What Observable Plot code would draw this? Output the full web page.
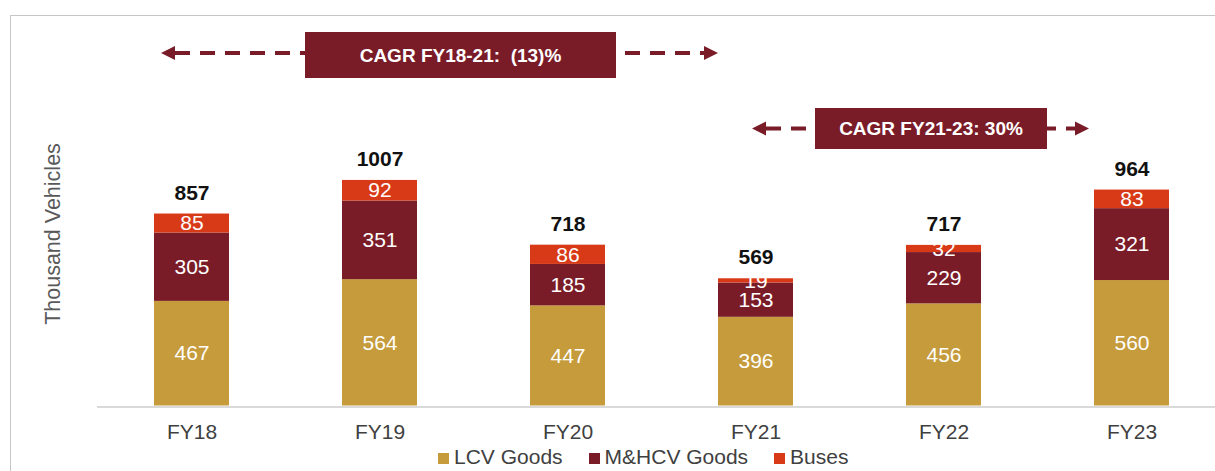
<!DOCTYPE html>
<html>
<head>
<meta charset="utf-8">
<script src="https://cdn.jsdelivr.net/npm/d3@7"></script>
<script src="https://cdn.jsdelivr.net/npm/@observablehq/plot@0.6"></script>
<style>
  html, body { margin: 0; padding: 0; background: #fff; }
  body { font-family: "Liberation Sans", Arial, sans-serif; }
  #wrap { position: relative; width: 1215px; height: 471px; overflow: hidden; background: #fff; }
  #frame { position: absolute; left: 10px; top: 15px; width: 1400px; height: 600px;
           border-left: 1.5px solid #c6c6c6; border-top: 1.5px solid #c6c6c6; pointer-events: none; }
  #chart { position: absolute; left: 0; top: 0; }
  #legend { position: absolute; left: 438px; top: 445px; height: 24px; display: flex; align-items: center;
            font-size: 21px; color: #404040; white-space: nowrap; }
  #legend .item { display: flex; align-items: center; margin-right: 26px; }
  #legend .sw { width: 11px; height: 11px; margin-right: 5px; margin-top: 3px; }
</style>
</head>
<body>
<div id="wrap">
  <div id="frame"></div>
  <div id="chart"></div>
  <div id="legend"></div>
</div>
<script>
// ---- data ----
const years = ["FY18", "FY19", "FY20", "FY21", "FY22", "FY23"];
const series = ["LCV Goods", "M&HCV Goods", "Buses"];
const lcvGoods = [467, 564, 447, 396, 456, 560];
const mhcvGoods = [305, 351, 185, 153, 229, 321];
const buses = [85, 92, 86, 19, 32, 83];
const totals = [857, 1007, 718, 569, 717, 964];
const colors = ["#C59B3C", "#7A1C28", "#D83A17"];
const yAxisTitle = "Thousand Vehicles";
const cagrLabels = ["CAGR FY18-21:  (13)%", "CAGR FY21-23: 30%"];

// ---- tables ----
const seriesValues = [lcvGoods, mhcvGoods, buses];
const rows = [];
series.forEach((s, si) => years.forEach((y, yi) => rows.push({ year: y, series: s, value: seriesValues[si][yi] })));
const totalRows = years.map((y, i) => ({ year: y, total: totals[i] }));

const font = "Liberation Sans, Arial, sans-serif";

const chart = Plot.plot({
  width: 1215,
  height: 445,
  marginLeft: 97,
  marginRight: 0,
  marginTop: 0,
  marginBottom: 40,
  x: { domain: years, range: [97, 1227], paddingInner: 0.6, paddingOuter: 0.3, label: null },
  y: { domain: [0, 1000], range: [405.5, 181.5], axis: null },
  color: { domain: series, range: colors },
  style: { fontFamily: font, background: "transparent", overflow: "visible" },
  marks: [
    Plot.ruleY([0], { stroke: "#d9d9d9", strokeWidth: 2, dy: 1 }),
    Plot.barY(rows, Plot.stackY({ x: "year", y: "value", fill: "series", order: series })),
    Plot.text(rows, Plot.stackY({
      x: "year", y: "value", z: "series", order: series,
      text: d => String(d.value), fill: "white", fontSize: 21
    })),
    Plot.text(totalRows, {
      x: "year", y: "total", text: d => String(d.total),
      dy: -21, fontSize: 21, fontWeight: "bold", fill: "#111"
    }),
    Plot.axisX({ tickSize: 0, tickPadding: 19, fontSize: 21, fill: "#404040", label: null }),
    Plot.text([yAxisTitle], {
      text: d => d, frameAnchor: "left", textAnchor: "middle", rotate: -90, dx: -44, dy: 31,
      fontSize: 21.5, fill: "#595959"
    })
  ]
});
document.getElementById("chart").appendChild(chart);

// ---- CAGR annotations (dashed double arrows with labelled boxes) ----
const xs = chart.scale("x");
const bandStart = k => xs.apply(k);
const annot = [
  { label: cagrLabels[0], x1: bandStart("FY18") + 7, x2: bandStart("FY21"), y: 53,
    bx: 305, bw: 311, by: 32, bh: 46 },
  { label: cagrLabels[1], x1: bandStart("FY21") + 34, x2: bandStart("FY23") - 5, y: 128.5,
    bx: 815, bw: 232, by: 108, bh: 41 }
];
const ac = "#7A1C28";
const svg = d3.select(chart);
const g = svg.append("g");
annot.forEach(a => {
  const hl = 14, hh = 7;
  g.append("line")
    .attr("x1", a.x1 + hl).attr("x2", a.x2 - hl)
    .attr("y1", a.y).attr("y2", a.y)
    .attr("stroke", ac).attr("stroke-width", 4)
    .attr("stroke-dasharray", "15 10");
  g.append("path")
    .attr("d", `M${a.x1},${a.y} L${a.x1 + hl},${a.y - hh} L${a.x1 + hl},${a.y + hh} Z`)
    .attr("fill", ac);
  g.append("path")
    .attr("d", `M${a.x2},${a.y} L${a.x2 - hl},${a.y - hh} L${a.x2 - hl},${a.y + hh} Z`)
    .attr("fill", ac);
  g.append("rect")
    .attr("x", a.bx).attr("y", a.by).attr("width", a.bw).attr("height", a.bh)
    .attr("fill", ac);
  g.append("text")
    .attr("x", a.bx + a.bw / 2).attr("y", a.by + a.bh / 2)
    .attr("dy", "0.35em")
    .attr("text-anchor", "middle")
    .attr("fill", "white")
    .attr("font-family", font)
    .attr("font-weight", "bold")
    .attr("font-size", 19)
    .style("white-space", "pre")
    .text(a.label);
});

// ---- legend ----
const legend = d3.select("#legend");
series.forEach((s, i) => {
  const it = legend.append("div").attr("class", "item");
  it.append("div").attr("class", "sw").style("background", colors[i]);
  it.append("span").text(s);
});
</script>
</body>
</html>
